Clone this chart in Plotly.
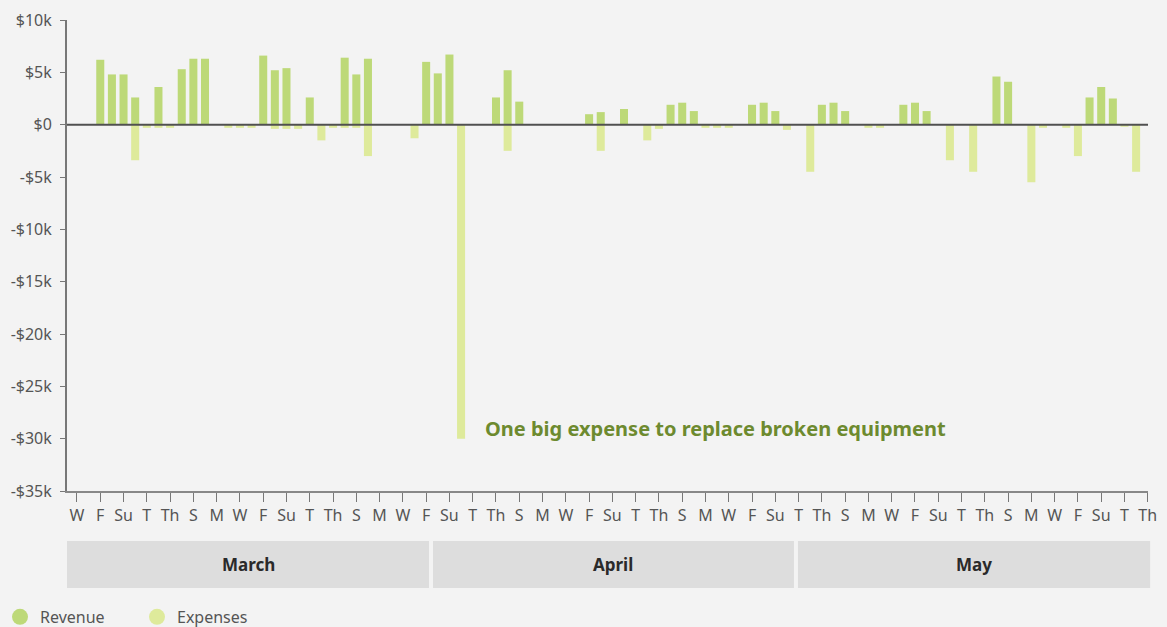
import pandas as pd
import plotly.graph_objects as go

# daily values, 1 Mar - 31 May 2023 (dollars)
revenue = [
    0, 0, 6200, 4800, 4800, 2600, 0, 3600, 0, 5300,
    6300, 6300, 0, 0, 0, 0, 6600, 5200, 5400, 0,
    2600, 0, 0, 6400, 4800, 6300, 0, 0, 0, 0,
    6000, 4900, 6700, 0, 0, 0, 2600, 5200, 2200, 0,
    0, 0, 0, 0, 1000, 1200, 0, 1500, 0, 0,
    0, 1900, 2100, 1300, 0, 0, 0, 0, 1900, 2100,
    1300, 0, 0, 0, 1900, 2100, 1300, 0, 0, 0,
    0, 1900, 2100, 1300, 0, 0, 0, 0, 0, 4600,
    4100, 0, 0, 0, 0, 0, 0, 2600, 3600, 2500,
    0, 0,
]
expenses = [
    0, 0, 0, 0, 0, -3400, -300, -300, -300, 0,
    0, 0, 0, -300, -300, -300, 0, -400, -400, -400,
    0, -1500, -300, -300, -300, -3000, 0, 0, 0, -1300,
    0, 0, 0, -30000, 0, 0, 0, -2500, 0, 0,
    0, 0, 0, 0, 0, -2500, 0, 0, 0, -1500,
    -400, 0, 0, 0, -300, -300, -300, 0, 0, 0,
    0, -500, 0, -4500, 0, 0, 0, 0, -300, -300,
    0, 0, 0, 0, 0, -3400, 0, -4500, 0, 0,
    0, 0, -5500, -300, 0, -300, -3000, 0, 0, 0,
    -200, -4500,
]
months = ['March', 'April', 'May']
y_ticks = [10000, 5000, 0, -5000, -10000, -15000, -20000, -25000, -30000, -35000]
note = 'One big expense to replace broken equipment'

dates = pd.date_range('2023-03-01', periods=len(revenue), freq='D')
tick_dates = pd.date_range('2023-03-01', '2023-06-01', freq='2D')
abbr = ['M', 'T', 'W', 'Th', 'F', 'S', 'Su']
tick_text = [abbr[d.weekday()] for d in tick_dates]
y_text = ['$0' if v == 0 else ('-' if v < 0 else '') + '$' + str(abs(v) // 1000) + 'k' for v in y_ticks]

rev_color = '#bdd978'
exp_color = '#deea9b'
day_ms = 86400000
font = 'Noto Sans, Open Sans, sans-serif'

fig = go.Figure()
# days without a value get no bar
fig.add_trace(go.Bar(x=dates, y=[v or None for v in revenue], name='Revenue',
                     marker_color=rev_color, marker_line_width=0,
                     width=0.69 * day_ms, showlegend=False))
fig.add_trace(go.Bar(x=dates, y=[v or None for v in expenses], name='Expenses',
                     marker_color=exp_color, marker_line_width=0,
                     width=0.69 * day_ms, showlegend=False))
# legend entries drawn as circles
for name, col in [('Revenue', rev_color), ('Expenses', exp_color)]:
    fig.add_trace(go.Scatter(x=[None], y=[None], mode='markers', name=name,
                             marker=dict(color=col, size=20, symbol='circle')))

# zero line on top of the bars
fig.add_shape(type='line', xref='x domain', yref='y', x0=0, x1=1, y0=0, y1=0,
              line=dict(color='#505050', width=2), layer='above')

# month bands under the axis
gap = 0.0037
edges = [0, 0.3349, 0.6725, 1.0]
for i, m in enumerate(months):
    x0 = edges[i] + (gap if i > 0 else 0)
    x1 = edges[i + 1] + (0.002 if i == 2 else 0)
    fig.add_shape(type='rect', xref='paper', yref='paper', x0=x0, x1=x1,
                  y0=-0.206, y1=-0.106, fillcolor='#dddddd', line_width=0, layer='below')
    fig.add_annotation(xref='paper', yref='paper', x=(x0 + x1) / 2, y=-0.156,
                       xanchor='center', yanchor='middle',
                       text='<b>' + m + '</b>', showarrow=False,
                       font=dict(size=17, color='#2a2a2a', family=font))

big = min(range(len(expenses)), key=lambda i: expenses[i])
fig.add_annotation(x=dates[big], y=expenses[big], text='<b>' + note + '</b>',
                   showarrow=False, xanchor='left', yanchor='middle', xshift=22, yshift=10,
                   font=dict(size=20, color='#6d8a2f', family=font))

fig.update_layout(
    barmode='relative',
    width=1167, height=627,
    margin=dict(l=67, r=19, t=20, b=136, autoexpand=False),
    paper_bgcolor='#f3f3f3',
    plot_bgcolor='#f3f3f3',
    font=dict(family=font, size=16, color='#555555'),
    legend=dict(orientation='h', xref='container', yref='container', x=0, y=0.016,
                xanchor='left', yanchor='middle',
                entrywidth=92, font=dict(size=16, color='#555555'), itemsizing='trace'),
    xaxis=dict(
        type='date', automargin=False,
        range=[dates[0] - pd.Timedelta(hours=20.6), pd.Timestamp('2023-06-01 00:30')],
        tickvals=tick_dates, ticktext=tick_text,
        ticks='outside', ticklen=9, tickcolor='#777777',
        showline=True, linecolor='#888888', linewidth=1.5,
        showgrid=False, zeroline=False,
        tickfont=dict(size=16, color='#555555'),
    ),
    yaxis=dict(
        range=[-35000, 10000], automargin=False,
        tickvals=y_ticks, ticktext=y_text,
        ticks='outside', ticklen=5, tickcolor='#777777',
        ticklabelstandoff=5,
        showline=True, linecolor='#777777', linewidth=2,
        showgrid=False, zeroline=False,
        tickfont=dict(size=16, color='#555555'),
    ),
)

fig.write_html('out.html', post_script="document.body.style.margin='0';",
               config={'displayModeBar': False})
